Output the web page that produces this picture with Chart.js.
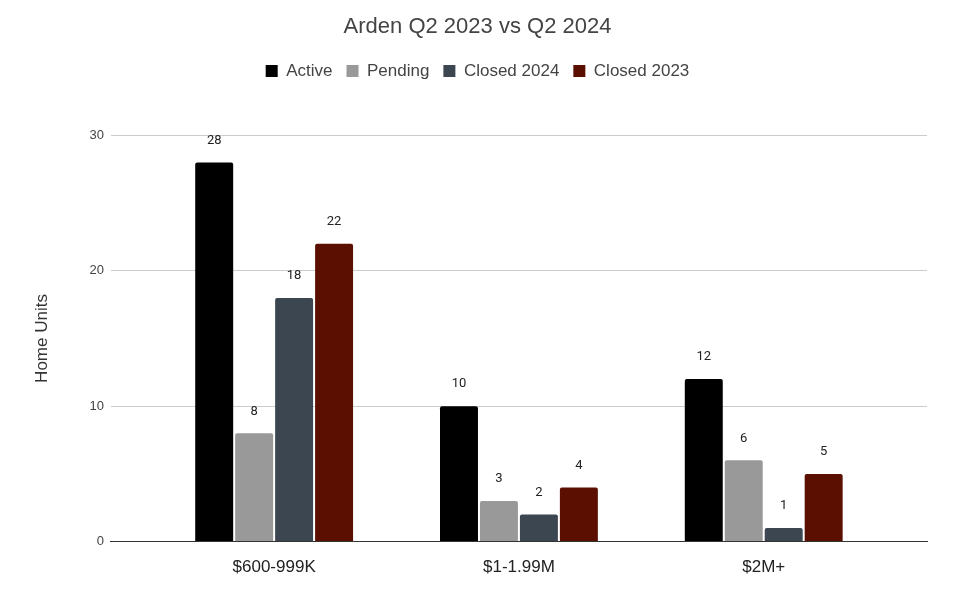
<!DOCTYPE html>
<html>
<head>
<meta charset="utf-8">
<script src="https://cdn.jsdelivr.net/npm/chart.js@4"></script>
<style>
  html, body { margin: 0; padding: 0; background: #fff; }
  #wrap { width: 958px; height: 602px; }
</style>
</head>
<body>
<div id="wrap"><canvas id="chart"></canvas></div>
<script>
// data
const categories = ["$600-999K", "$1-1.99M", "$2M+"];
const active = [28, 10, 12];
const pending = [8, 3, 6];
const closed2024 = [18, 2, 1];
const closed2023 = [22, 4, 5];
const yTicks = [0, 10, 20, 30];

const seriesNames = ["Active", "Pending", "Closed 2024", "Closed 2023"];
const seriesValues = [active, pending, closed2024, closed2023];
const seriesColors = ["#000000", "#999999", "#3c4650", "#5a0f00"];

const sans = "'Liberation Sans', Arial, sans-serif";

// bars sit on a linear x scale so the plot area can run wider than the groups
function toPoints(values) {
    return values.map((v, i) => ({ x: i + 1, y: v }));
}

// value labels above each bar
const barLabels = {
    id: "barLabels",
    afterDatasetsDraw(chart) {
        const ctx = chart.ctx;
        ctx.save();
        ctx.font = "13px Roboto";
        ctx.fillStyle = "#222";
        ctx.textAlign = "center";
        ctx.textBaseline = "middle";
        chart.data.datasets.forEach((ds, di) => {
            chart.getDatasetMeta(di).data.forEach((bar, i) => {
                ctx.fillText(ds.data[i].y, bar.x, bar.y - 22);
            });
        });
        ctx.restore();
    }
};

// extra room under the legend
const legendGap = {
    id: "legendGap",
    beforeInit(chart) {
        const fit = chart.legend.fit;
        chart.legend.fit = function () {
            fit.call(this);
            this.height += 46;
        };
    }
};

new Chart(document.getElementById("chart"), {
    type: "bar",
    data: {
        datasets: seriesNames.map((name, i) => ({
            label: name,
            data: toPoints(seriesValues[i]),
            backgroundColor: seriesColors[i],
            borderRadius: 2,
            categoryPercentage: 0.653,
            barPercentage: 0.95
        }))
    },
    options: {
        responsive: true,
        maintainAspectRatio: false,
        animation: false,
        layout: { padding: { top: 0, right: 31, bottom: 16, left: 28 } },
        plugins: {
            title: {
                display: true,
                text: "Arden Q2 2023 vs Q2 2024",
                color: "#444",
                font: { family: sans, size: 22, weight: "normal" },
                padding: { top: 14, bottom: 8 }
            },
            legend: {
                position: "top",
                labels: {
                    color: "#444",
                    font: { family: sans, size: 17 },
                    boxWidth: 12,
                    boxHeight: 12,
                    padding: 14
                }
            },
            tooltip: { enabled: false }
        },
        scales: {
            x: {
                type: "linear",
                offset: false,
                bounds: "ticks",
                min: 0.333,
                max: 3.667,
                afterBuildTicks(axis) {
                    axis.ticks = categories.map((c, i) => ({ value: i + 1 }));
                },
                ticks: {
                    color: "#222",
                    font: { family: sans, size: 17 },
                    padding: 8,
                    callback: (v) => categories[v - 1]
                },
                grid: { display: false },
                border: { display: true, color: "#333" }
            },
            y: {
                min: 0,
                max: 30,
                afterBuildTicks(axis) {
                    axis.ticks = yTicks.map(v => ({ value: v }));
                },
                ticks: {
                    color: "#444",
                    font: { family: sans, size: 13 },
                    padding: 7
                },
                grid: { color: "#cccccc", drawTicks: false },
                border: { display: false },
                title: {
                    display: true,
                    text: "Home Units",
                    color: "#333",
                    font: { family: sans, size: 17 },
                    padding: { bottom: 30 }
                }
            }
        }
    },
    plugins: [barLabels, legendGap]
});
</script>
</body>
</html>
